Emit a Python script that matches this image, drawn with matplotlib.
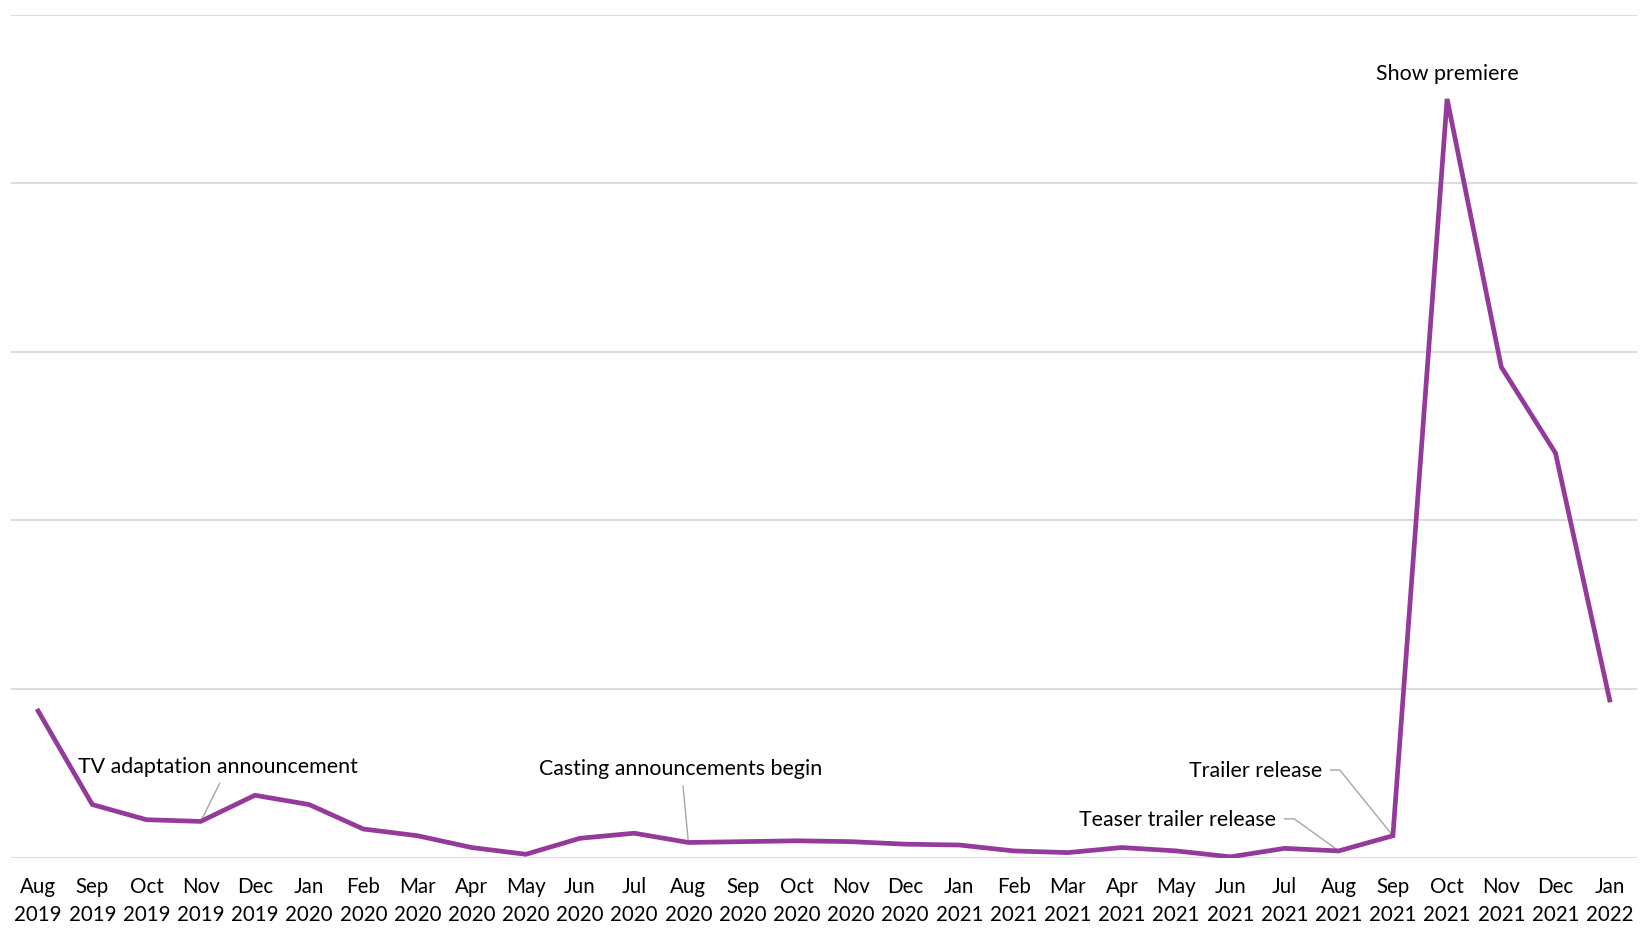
import matplotlib
matplotlib.use("Agg")
import matplotlib.pyplot as plt

months = ["Aug", "Sep", "Oct", "Nov", "Dec", "Jan", "Feb", "Mar", "Apr", "May", "Jun", "Jul",
          "Aug", "Sep", "Oct", "Nov", "Dec", "Jan", "Feb", "Mar", "Apr", "May", "Jun", "Jul",
          "Aug", "Sep", "Oct", "Nov", "Dec", "Jan"]
years = ["2019"] * 5 + ["2020"] * 12 + ["2021"] * 12 + ["2022"]
values = [17.4, 6.3, 4.5, 4.3, 7.4, 6.3, 3.4, 2.6, 1.2, 0.4, 2.3, 2.9,
          1.8, 1.9, 2.0, 1.9, 1.6, 1.5, 0.8, 0.6, 1.2, 0.8, 0.1, 1.1,
          0.8, 2.6, 90.0, 58.2, 48.0, 18.7]
labels = [f"{m}\n{y}" for m, y in zip(months, years)]

plt.rcParams['font.family'] = ['Lato', 'DejaVu Sans']

fig = plt.figure(figsize=(16.45, 9.43), dpi=100)
ax = fig.add_axes([0.0067, 0.0905, 0.9883, 0.894])

x = list(range(len(values)))
ax.plot(x, values, color="#933A9A", lw=3.4, solid_joinstyle="miter", zorder=3)

ax.set_xlim(-0.5, len(values) - 0.5)
ax.set_ylim(0, 100)
ax.set_yticks([0, 20, 40, 60, 80, 100])
ax.set_yticklabels([])
ax.yaxis.grid(True, color="#D9D9D9", lw=1.3)
ax.set_axisbelow(True)
ax.tick_params(axis="y", length=0)
ax.set_xticks(x)
ax.set_xticklabels(labels, fontsize=14.8, color="black", linespacing=1.5)
ax.tick_params(axis="x", length=0, pad=14)
for s in ax.spines.values():
    s.set_visible(False)

fs = 15.4
gray = "#A6A6A6"

ax.text(3.32, 10.8, "TV adaptation announcement", ha="center", va="center", fontsize=fs)
ax.plot([3.0, 3.35], [values[3], 8.8], color=gray, lw=1.0, zorder=2)

ax.text(11.85, 10.5, "Casting announcements begin", ha="center", va="center", fontsize=fs)
ax.plot([12.0, 11.9], [values[12], 8.5], color=gray, lw=1.0, zorder=2)

ax.text(22.85, 4.5, "Teaser trailer release", ha="right", va="center", fontsize=fs)
ax.plot([23.0, 23.18, 24.0], [4.6, 4.6, values[24]], color=gray, lw=1.0, zorder=2)

ax.text(23.69, 10.3, "Trailer release", ha="right", va="center", fontsize=fs)
ax.plot([23.85, 24.02, 25.0], [10.4, 10.4, values[25]], color=gray, lw=1.0, zorder=2)

ax.text(26.0, 93.0, "Show premiere", ha="center", va="center", fontsize=fs)

fig.savefig("out.png", dpi=100, facecolor="white")
